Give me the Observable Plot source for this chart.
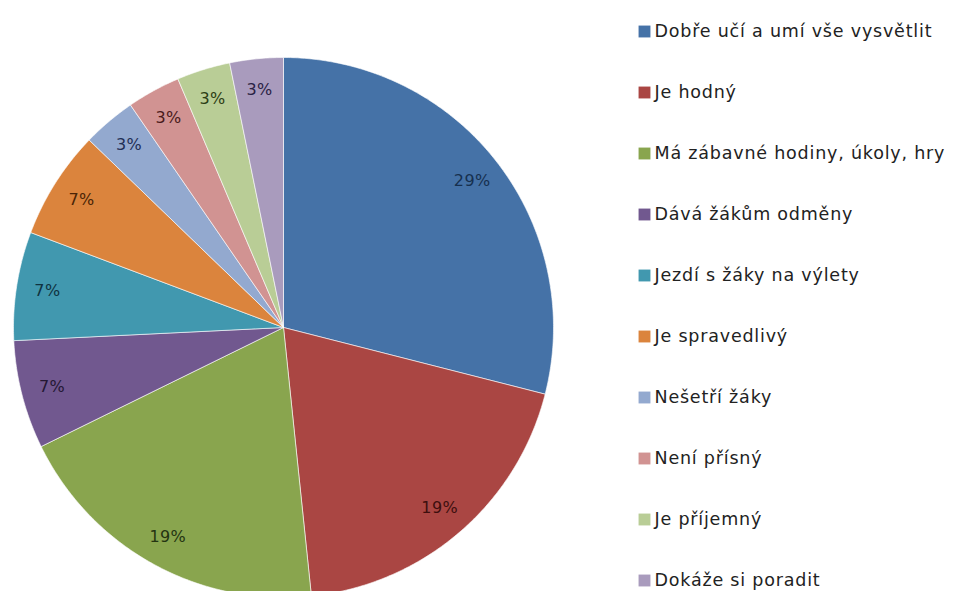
<!DOCTYPE html>
<html><head><meta charset="utf-8">
<script src="https://cdn.jsdelivr.net/npm/d3@7"></script>
<script src="https://cdn.jsdelivr.net/npm/@observablehq/plot@0.6"></script>
<style>
body{margin:0;background:#fff;}
#wrap{position:relative;width:964px;height:591px;overflow:hidden;background:#fff;}
#pie{position:absolute;left:0;top:0;}
#legend{position:absolute;left:630px;top:0;}
#pie text{letter-spacing:0.4px;}
#legend text{letter-spacing:0.8px;}
</style>
</head><body>
<div id="wrap"><div id="pie"></div><div id="legend"></div></div>
<script>
const categories = [
  "Dobře učí a umí vše vysvětlit",
  "Je hodný",
  "Má zábavné hodiny, úkoly, hry",
  "Dává žákům odměny",
  "Jezdí s žáky na výlety",
  "Je spravedlivý",
  "Nešetří žáky",
  "Není přísný",
  "Je příjemný",
  "Dokáže si poradit"
];
const values = [29, 19.4, 19.4, 6.5, 6.5, 6.5, 3.2, 3.2, 3.2, 3.2];
const colors = ["#4572A7", "#AA4643", "#89A54E", "#71588F", "#4198AF", "#DB843D", "#93A9CF", "#D19392", "#B9CD96", "#A99BBD"];
const labelColors = ["#16304f", "#3d0f0e", "#243411", "#241733", "#0f3341", "#4a2406", "#1f2f55", "#4a1a1a", "#2c3d14", "#2a2244"];

const arcs = d3.pie().sort(null).value(d => d)(values);
const slicePts = [];
const labels = [];
arcs.forEach((a, i) => {
  const cat = categories[i];
  slicePts.push({cat, x: 0, y: 0, c: colors[i]});
  const n = Math.max(2, Math.ceil((a.endAngle - a.startAngle) / (Math.PI / 360)));
  for (let k = 0; k <= n; k++) {
    const t = a.startAngle + (a.endAngle - a.startAngle) * k / n;
    slicePts.push({cat, x: Math.sin(t), y: Math.cos(t), c: colors[i]});
  }
  slicePts.push({cat, x: 0, y: 0, c: colors[i]});
  const m = (a.startAngle + a.endAngle) / 2;
  labels.push({x: 0.885 * Math.sin(m), y: 0.885 * Math.cos(m), text: Math.round(values[i]) + "%", c: labelColors[i]});
});

const pie = Plot.plot({
  width: 964, height: 591,
  margin: 0,
  style: {background: "transparent", fontFamily: "DejaVu Sans", overflow: "hidden"},
  x: {domain: [-1, 1], range: [13, 553], axis: null},
  y: {domain: [-1, 1], range: [597, 57], axis: null},
  color: {type: "identity"},
  marks: [
    Plot.line(slicePts, {x: "x", y: "y", z: "cat", fill: "c", stroke: "white", strokeWidth: 1, strokeOpacity: 0.6}),
    Plot.text(labels, {x: "x", y: "y", text: "text", fill: "c", fontSize: 16})
  ]
});
document.getElementById("pie").appendChild(pie);

const legend = Plot.plot({
  width: 334, height: 591,
  margin: 0,
  style: {background: "transparent", fontFamily: "DejaVu Sans"},
  y: {type: "point", domain: categories, range: [27, 583], padding: 0, axis: null},
  color: {type: "identity"},
  marks: [
    Plot.dot(categories, {frameAnchor: "left", y: d => d, dx: 14, symbol: "square", r: 6.7, fill: (d, i) => colors[i], stroke: "none"}),
    Plot.text(categories, {frameAnchor: "left", y: d => d, dx: 24, text: d => d, textAnchor: "start", fill: "#222", fontSize: 17.5})
  ]
});
document.getElementById("legend").appendChild(legend);
</script>
</body></html>
